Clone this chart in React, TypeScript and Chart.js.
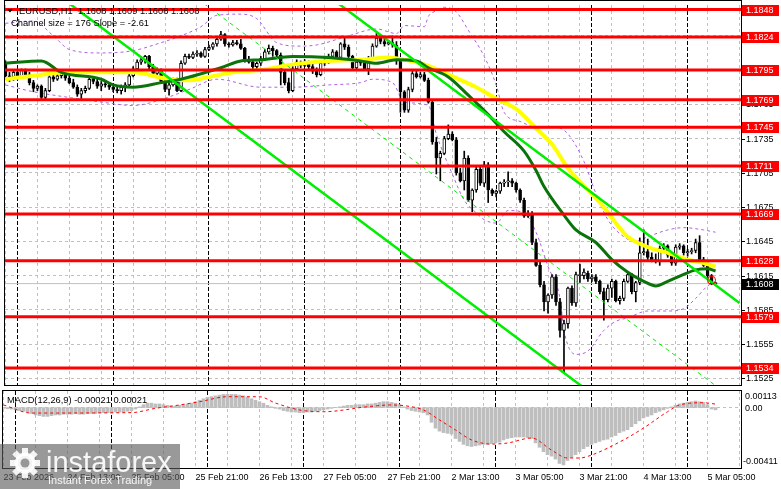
import React, { useEffect, useRef } from "react";
import { Chart, registerables } from "chart.js";

Chart.register(...registerables);

const FONT = "9px 'Liberation Sans', Arial, sans-serif";
const TITLE_FONT = "9.3px 'Liberation Sans', Arial, sans-serif";

// ---------- price data (hourly candles, index 0 = 23 Feb 21:00) ----------
const opens = [
  1.1800,1.1790,1.1789,1.1793,1.1789,1.1795,1.1791,1.1784,1.1779,1.1781,
  1.1771,1.1777,1.1789,1.1787,1.1790,1.1792,1.1788,1.1784,1.1780,1.1774,
  1.1777,1.1779,1.1787,1.1785,1.1781,1.1783,1.1782,1.1780,1.1778,1.1777,
  1.1780,1.1782,1.1790,1.1796,1.1802,1.1804,1.1807,1.1798,1.1792,1.1795,
  1.1785,1.1778,1.1782,1.1786,1.1777,1.1801,1.1807,1.1806,1.1809,1.1810,
  1.1807,1.1813,1.1815,1.1818,1.1822,1.1826,1.1818,1.1817,1.1819,1.1818,
  1.1814,1.1804,1.1802,1.1798,1.1801,1.1805,1.1811,1.1814,1.1812,1.1808,
  1.1793,1.1784,1.1777,1.1796,1.1802,1.1799,1.1802,1.1798,1.1794,1.1791,
  1.1801,1.1803,1.1807,1.1811,1.1806,1.1818,1.1815,1.1807,1.1797,1.1802,
  1.1801,1.1796,1.1805,1.1816,1.1823,1.1820,1.1818,1.1819,1.1817,1.1803,
  1.1776,1.1760,1.1778,1.1792,1.1789,1.1791,1.1786,1.1767,1.1732,1.1718,
  1.1722,1.1735,1.1739,1.1734,1.1705,1.1698,1.1718,1.1681,1.1690,1.1708,
  1.1696,1.1712,1.1690,1.1687,1.1689,1.1696,1.1697,1.1698,1.1696,1.1690,
  1.1681,1.1667,1.1669,1.1644,1.1624,1.1607,1.1592,1.1598,1.1614,1.1592,
  1.1567,1.1573,1.1604,1.1591,1.1615,1.1615,1.1617,1.1612,1.1614,1.1610,
  1.1601,1.1594,1.1604,1.1610,1.1593,1.1595,1.1610,1.1616,1.1601,1.1609,
  1.1635,1.1636,1.1631,1.1629,1.1627,1.1639,1.1641,1.1633,1.1626,1.1640,
  1.1641,1.1635,1.1636,1.1637,1.1644,1.1629,1.1624,1.1615,1.1608,
];
const highs = [
  1.1803,1.1793,1.1795,1.1795,1.1796,1.1796,1.1793,1.1786,1.1782,1.1782,
  1.1779,1.1790,1.1791,1.1792,1.1794,1.1793,1.1790,1.1787,1.1782,1.1779,
  1.1781,1.1789,1.1789,1.1787,1.1785,1.1785,1.1783,1.1782,1.1781,1.1782,
  1.1784,1.1792,1.1798,1.1804,1.1807,1.1808,1.1808,1.1800,1.1797,1.1796,
  1.1787,1.1784,1.1788,1.1788,1.1803,1.1809,1.1809,1.1811,1.1812,1.1811,
  1.1815,1.1817,1.1819,1.1824,1.1829,1.1827,1.1819,1.1821,1.1821,1.1822,
  1.1815,1.1807,1.1804,1.1802,1.1807,1.1813,1.1817,1.1816,1.1813,1.1810,
  1.1795,1.1788,1.1798,1.1804,1.1803,1.1804,1.1803,1.1800,1.1797,1.1802,
  1.1805,1.1809,1.1813,1.1812,1.1819,1.1824,1.1817,1.1808,1.1804,1.1805,
  1.1803,1.1807,1.1818,1.1827,1.1825,1.1822,1.1821,1.1825,1.1820,1.1805,
  1.1777,1.1780,1.1794,1.1794,1.1793,1.1793,1.1788,1.1769,1.1736,1.1724,
  1.1737,1.1747,1.1741,1.1736,1.1709,1.1724,1.1720,1.1691,1.1710,1.1711,
  1.1715,1.1714,1.1691,1.1690,1.1697,1.1699,1.1706,1.1700,1.1697,1.1691,
  1.1683,1.1672,1.1671,1.1647,1.1627,1.1610,1.1599,1.1616,1.1616,1.1595,
  1.1576,1.1605,1.1606,1.1618,1.1625,1.1621,1.1619,1.1616,1.1616,1.1611,
  1.1604,1.1607,1.1612,1.1611,1.1597,1.1612,1.1617,1.1617,1.1610,1.1648,
  1.1655,1.1647,1.1635,1.1634,1.1641,1.1643,1.1642,1.1635,1.1642,1.1643,
  1.1642,1.1638,1.1639,1.1647,1.1650,1.1631,1.1628,1.1616,1.1609,
];
const lows = [
  1.1789,1.1785,1.1786,1.1787,1.1788,1.1790,1.1782,1.1776,1.1777,1.1769,
  1.1770,1.1776,1.1785,1.1786,1.1788,1.1786,1.1783,1.1779,1.1772,1.1769,
  1.1775,1.1778,1.1783,1.1779,1.1777,1.1780,1.1778,1.1776,1.1775,1.1774,
  1.1776,1.1781,1.1789,1.1795,1.1800,1.1801,1.1796,1.1790,1.1790,1.1783,
  1.1776,1.1773,1.1781,1.1776,1.1776,1.1800,1.1805,1.1805,1.1807,1.1806,
  1.1806,1.1812,1.1813,1.1816,1.1821,1.1816,1.1815,1.1816,1.1817,1.1813,
  1.1802,1.1801,1.1796,1.1795,1.1799,1.1804,1.1809,1.1807,1.1806,1.1782,
  1.1782,1.1775,1.1776,1.1795,1.1797,1.1798,1.1796,1.1792,1.1789,1.1790,
  1.1799,1.1801,1.1806,1.1804,1.1805,1.1813,1.1806,1.1795,1.1796,1.1799,
  1.1795,1.1791,1.1804,1.1815,1.1818,1.1816,1.1817,1.1815,1.1800,1.1758,
  1.1758,1.1758,1.1776,1.1788,1.1788,1.1785,1.1766,1.1730,1.1704,1.1698,
  1.1721,1.1734,1.1733,1.1703,1.1697,1.1690,1.1680,1.1671,1.1688,1.1694,
  1.1693,1.1679,1.1685,1.1684,1.1687,1.1693,1.1693,1.1693,1.1688,1.1679,
  1.1666,1.1666,1.1642,1.1623,1.1605,1.1584,1.1582,1.1595,1.1589,1.1561,
  1.1530,1.1569,1.1589,1.1588,1.1609,1.1612,1.1610,1.1610,1.1608,1.1599,
  1.1576,1.1592,1.1596,1.1592,1.1590,1.1593,1.1609,1.1599,1.1592,1.1607,
  1.1633,1.1629,1.1627,1.1626,1.1624,1.1636,1.1631,1.1624,1.1624,1.1638,
  1.1633,1.1632,1.1634,1.1635,1.1627,1.1623,1.1613,1.1607,1.1608,
];
const closes = [
  1.1790,1.1789,1.1793,1.1789,1.1795,1.1791,1.1784,1.1779,1.1781,1.1771,
  1.1777,1.1789,1.1787,1.1790,1.1792,1.1788,1.1784,1.1780,1.1774,1.1777,
  1.1779,1.1787,1.1785,1.1781,1.1783,1.1782,1.1780,1.1778,1.1777,1.1780,
  1.1782,1.1790,1.1796,1.1802,1.1804,1.1807,1.1798,1.1792,1.1795,1.1785,
  1.1778,1.1782,1.1786,1.1777,1.1801,1.1807,1.1806,1.1809,1.1810,1.1807,
  1.1813,1.1815,1.1818,1.1822,1.1826,1.1818,1.1817,1.1819,1.1818,1.1814,
  1.1804,1.1802,1.1798,1.1801,1.1805,1.1811,1.1814,1.1812,1.1808,1.1793,
  1.1784,1.1777,1.1796,1.1802,1.1799,1.1802,1.1798,1.1794,1.1791,1.1801,
  1.1803,1.1807,1.1811,1.1806,1.1818,1.1815,1.1807,1.1797,1.1802,1.1801,
  1.1796,1.1805,1.1816,1.1823,1.1820,1.1818,1.1819,1.1817,1.1803,1.1776,
  1.1760,1.1778,1.1792,1.1789,1.1791,1.1786,1.1767,1.1732,1.1718,1.1722,
  1.1735,1.1739,1.1734,1.1705,1.1698,1.1718,1.1681,1.1690,1.1708,1.1696,
  1.1712,1.1690,1.1687,1.1689,1.1696,1.1697,1.1698,1.1696,1.1690,1.1681,
  1.1667,1.1669,1.1644,1.1624,1.1607,1.1592,1.1598,1.1614,1.1592,1.1567,
  1.1573,1.1604,1.1591,1.1616,1.1616,1.1618,1.1612,1.1614,1.1610,1.1601,
  1.1594,1.1604,1.1610,1.1593,1.1595,1.1610,1.1616,1.1601,1.1609,1.1635,
  1.1636,1.1631,1.1629,1.1627,1.1639,1.1641,1.1633,1.1626,1.1640,1.1641,
  1.1635,1.1636,1.1637,1.1644,1.1629,1.1624,1.1615,1.1608,1.1608,
];

// moving averages / bands: [candle index, price]
const maGreen = [
  [0,1.1801],[9,1.1803],[14,1.1793],[24,1.1787],[27,1.1782],[32,1.1780],[39,1.1784],[44,1.1787],
  [54,1.1797],[59,1.1803],[64,1.1804],[72,1.1807],[81,1.1806],[89,1.1803],[93,1.1801],[98,1.1804],
  [103,1.1803],[106,1.1797],[111,1.1789],[116,1.1773],[121,1.1756],[125,1.1741],[130,1.1724],
  [133,1.1707],[135,1.1693],[140,1.1668],[143,1.1655],[148,1.1644],[152,1.1629],[156,1.1618],
  [160,1.1610],[163,1.1606],[166,1.1610],[170,1.1616],[173,1.1620],[176,1.1621],[178,1.1619],
];
const maYellow = [
  [0,1.1787],[7,1.1790],[16,1.1793],[24,1.1793],[32,1.1793],[41,1.1787],[46,1.1786],[51,1.1789],
  [57,1.1793],[64,1.1795],[72,1.1800],[81,1.1803],[89,1.1804],[96,1.1806],[100,1.1804],[105,1.1800],
  [111,1.1791],[118,1.1780],[123,1.1770],[128,1.1761],[133,1.1744],[137,1.1730],[141,1.1709],
  [146,1.1690],[150,1.1675],[153,1.1661],[156,1.1649],[161,1.1640],[166,1.1635],[171,1.1629],
  [175,1.1626],[178,1.1623],
];
const bandUpper = [
  [0,1.1836],[7,1.1838],[12,1.1825],[16,1.1813],[24,1.1810],[32,1.1812],[39,1.1819],[44,1.1825],
  [49,1.1833],[53,1.1843],[59,1.1844],[63,1.1840],[68,1.1819],[74,1.1816],[78,1.1817],[86,1.1825],
  [93,1.1831],[98,1.1827],[100,1.1834],[105,1.1833],[106,1.1842],[108,1.1847],[110,1.1850],
  [113,1.1846],[116,1.1830],[120,1.1807],[123,1.1782],[125,1.1758],[129,1.1750],[133,1.1745],
  [138,1.1745],[141,1.1739],[145,1.1715],[148,1.1687],[151,1.1664],[155,1.1649],[158,1.1645],
  [161,1.1649],[166,1.1655],[170,1.1657],[175,1.1655],[178,1.1653],
];
const bandLower = [
  [0,1.1782],[7,1.1776],[16,1.1771],[24,1.1767],[32,1.1764],[37,1.1767],[46,1.1778],[53,1.1787],
  [64,1.1780],[72,1.1780],[81,1.1782],[89,1.1784],[92,1.1787],[97,1.1784],[100,1.1767],[106,1.1764],
  [108,1.1739],[112,1.1704],[115,1.1681],[118,1.1670],[120,1.1664],[123,1.1661],[126,1.1672],
  [130,1.1670],[133,1.1653],[136,1.1623],[139,1.1595],[140,1.1567],[143,1.1546],[146,1.1549],
  [150,1.1567],[153,1.1575],[156,1.1578],[161,1.1584],[166,1.1584],[170,1.1586],[173,1.1595],
  [176,1.1606],[178,1.1610],
];

// regression channel (slope -2.61 pips/bar, size 176 pips)
const channelIdx = [0, 184];
const channelUpper = [1.2071, 1.1591];
const channelMid = [1.1983, 1.1503];
const channelLower = [1.1895, 1.1415];

// horizontal levels
const levels = [1.1848, 1.1824, 1.1795, 1.1769, 1.1745, 1.1711, 1.1669, 1.1628, 1.1579, 1.1534];
const bidPrice = 1.1608;
const markerIdx = [177];
const markerPrice = [1.1611];

// axes
const priceTicks = [1.1525, 1.1555, 1.1585, 1.1615, 1.1645, 1.1675, 1.1705, 1.1735, 1.1765, 1.1795, 1.1825];
const PRICE_MIN = 1.15192;
const PRICE_MAX = 1.1852;
const X_MIN = -0.125;
const X_MAX = 184.375;
const GRID_STEP = 8;
const dayStarts = [3, 27, 51, 75, 99, 123, 147, 171];
const xLabelIdx = [0, 16, 32, 48, 64, 80, 96, 112, 128, 144, 160, 176];
const xLabelText = [
  "23 Feb 2026", "24 Feb 13:00", "25 Feb 05:00", "25 Feb 21:00", "26 Feb 13:00", "27 Feb 05:00",
  "27 Feb 21:00", "2 Mar 13:00", "3 Mar 05:00", "3 Mar 21:00", "4 Mar 13:00", "5 Mar 05:00",
];

// MACD(12,26,9)
const macdHist = [
  -0.00005,-0.00008,-0.0001,-0.00015,-0.0002,-0.00025,-0.0003,
  -0.0004,-0.0005,-0.00055,-0.0006,-0.0006,-0.00055,-0.0005,-0.0005,
  -0.00045,-0.00045,-0.00045,-0.0004,-0.00045,-0.00045,-0.0004,-0.0004,-0.0004,-0.00035,
  -0.00035,-0.00035,-0.00035,-0.0003,-0.0003,-0.0003,-0.00025,-0.0002,
  -0.0001,0.00005,0.0002,0.0003,0.0003,0.00025,0.00025,0.0002,0.00015,0.0001,0.0001,0.00015,0.0002,0.00025,
  0.0003,0.0004,0.0005,0.0006,0.0007,0.00075,0.0008,0.00085,
  0.0009,0.0009,0.0009,0.0009,0.00085,0.0008,
  0.0007,0.0006,0.0005,0.0004,0.0003,0.00015,
  0.00005,-0.00005,-0.0001,-0.0002,
  -0.00025,-0.0003,-0.0003,-0.00035,-0.00035,-0.0003,-0.0003,-0.00025,-0.0002,
  -0.00015,-0.0001,-0.00005,0.00002,0.00005,0.0001,
  0.00015,0.00015,0.0002,0.0002,0.0002,0.00025,0.00025,0.0003,0.00035,0.0004,0.0004,
  0.00035,0.0003,0.0002,0.00005,-0.0001,
  -0.0002,-0.00025,-0.0003,-0.00035,-0.0005,
  -0.001,
  -0.0014,-0.0016,-0.0017,-0.00175,-0.0018,
  -0.0021,-0.0023,-0.0025,-0.0026,
  -0.00265,-0.0026,-0.00255,-0.0025,-0.0025,-0.00245,-0.0024,-0.00235,
  -0.0022,-0.0021,-0.00205,-0.002,-0.002,-0.002,-0.00205,-0.0021,
  -0.0024,-0.0027,-0.003,-0.0032,-0.0033,-0.0035,-0.0038,-0.0039,
  -0.0036,-0.0034,-0.0032,-0.003,-0.0028,-0.00265,
  -0.0025,-0.0024,-0.0023,-0.0022,-0.00215,-0.002,-0.0019,-0.0017,-0.0016,-0.0015,-0.0013,-0.0011,-0.0009,-0.0007,
  -0.0006,-0.0005,-0.00035,-0.00025,-0.00015,-0.00005,
  0.00005,0.00015,0.00025,0.0003,0.00035,0.0004,0.00045,0.0004,0.00035,0.0002,-0.0001,
  -0.00015,
];
const macdSignal = [
  [0,0.00018],[7,-0.00037],[32,-0.00034],[38,-0.00005],[44,0.00018],[49,0.0004],[56,0.00074],
  [64,0.00074],[68,0.00031],[74,-0.00016],[80,-0.00028],[91,0.00006],[97,0.00018],[102,0.00006],
  [105,-0.00016],[109,-0.00084],[113,-0.00152],[117,-0.0022],[122,-0.00248],[126,-0.00241],
  [132,-0.00207],[137,-0.00289],[141,-0.00343],[144,-0.00343],[147,-0.00323],[155,-0.0022],
  [160,-0.00139],[166,-0.00028],[169,0.00018],[175,0.00033],[178,0.00024],
];
const MACD_MAX = 0.00113;
const MACD_MIN = -0.00411;
const macdTitle = "MACD(12,26,9) -0.00021 0.00021";
const symbolTitle = "EURUSD,H1";
const channelTitle = "Channel size = 176 Slope = -2.61";

const GRID_GRAY = "#c0c0c0";

const pts = (arr: number[][]) => arr.map(([x, y]) => ({ x, y }));

function drawVerticalGrid(ctx: any, xs: any, top: number, bottom: number) {
  ctx.lineWidth = 1;
  ctx.strokeStyle = GRID_GRAY;
  ctx.setLineDash([3, 3]);
  for (let i = 0; i <= X_MAX; i += GRID_STEP) {
    const px = Math.round(xs.getPixelForValue(i) - 0.5) + 0.5;
    ctx.beginPath();
    ctx.moveTo(px, top);
    ctx.lineTo(px, bottom);
    ctx.stroke();
  }
  ctx.strokeStyle = "#000";
  ctx.setLineDash([4, 2]);
  for (const d of dayStarts) {
    const px = Math.round(xs.getPixelForValue(d) - 0.5) + 0.5;
    ctx.beginPath();
    ctx.moveTo(px, top);
    ctx.lineTo(px, bottom);
    ctx.stroke();
  }
  ctx.setLineDash([]);
}

const mainDeco = {
  id: "mainDeco",
  beforeDatasetsDraw(chart: any) {
    const { ctx, chartArea: a } = chart;
    const xs = chart.scales.x;
    const ys = chart.scales.y;
    ctx.save();
    ctx.beginPath();
    ctx.rect(a.left, a.top, a.right - a.left, a.bottom - a.top);
    ctx.clip();
    ctx.lineWidth = 1;
    ctx.strokeStyle = GRID_GRAY;
    ctx.setLineDash([3, 3]);
    for (const t of priceTicks) {
      const py = Math.round(ys.getPixelForValue(t) - 0.5) + 0.5;
      ctx.beginPath();
      ctx.moveTo(a.left, py);
      ctx.lineTo(a.right, py);
      ctx.stroke();
    }
    drawVerticalGrid(ctx, xs, a.top, a.bottom);
    ctx.restore();
  },
  afterDraw(chart: any) {
    const { ctx, chartArea: a } = chart;
    const ys = chart.scales.y;
    ctx.save();
    ctx.setLineDash([]);
    ctx.strokeStyle = "#000";
    ctx.lineWidth = 1;
    ctx.strokeRect(a.left - 0.5, 0.5, a.right - a.left + 1, a.bottom);
    ctx.font = FONT;
    ctx.textBaseline = "middle";
    ctx.textAlign = "left";
    ctx.fillStyle = "#000";
    for (const t of priceTicks) {
      const py = Math.round(ys.getPixelForValue(t));
      ctx.fillText(t.toFixed(4), a.right + 5, py + 0.5);
      ctx.beginPath();
      ctx.moveTo(a.right + 1, py + 0.5);
      ctx.lineTo(a.right + 4, py + 0.5);
      ctx.stroke();
    }
    for (const l of levels) {
      const py = Math.round(ys.getPixelForValue(l));
      ctx.fillStyle = "#ff0000";
      ctx.fillRect(a.right + 1, py - 5, 37, 11);
      ctx.fillStyle = "#ffffff";
      ctx.fillText(l.toFixed(4), a.right + 5, py + 0.5);
    }
    {
      const py = Math.round(ys.getPixelForValue(bidPrice));
      ctx.fillStyle = "#000";
      ctx.fillRect(a.right + 1, py - 5, 37, 11);
      ctx.fillStyle = "#fff";
      ctx.fillText(bidPrice.toFixed(4), a.right + 5, py + 0.5);
    }
    const last = opens.length - 1;
    ctx.fillStyle = "#000";
    ctx.beginPath();
    ctx.moveTo(7, 9);
    ctx.lineTo(13, 9);
    ctx.lineTo(10, 12.5);
    ctx.closePath();
    ctx.fill();
    ctx.font = TITLE_FONT;
    ctx.fillText(
      `${symbolTitle}  ${opens[last].toFixed(4)} ${highs[last].toFixed(4)} ${lows[last].toFixed(4)} ${closes[last].toFixed(4)}`,
      19,
      11.5
    );
    ctx.fillText(channelTitle, 11, 23.5);
    ctx.restore();
  },
};

const macdDeco = {
  id: "macdDeco",
  beforeDatasetsDraw(chart: any) {
    const { ctx, chartArea: a } = chart;
    const xs = chart.scales.x;
    const ys = chart.scales.y;
    ctx.save();
    ctx.beginPath();
    ctx.rect(a.left, a.top, a.right - a.left, a.bottom - a.top);
    ctx.clip();
    drawVerticalGrid(ctx, xs, a.top, a.bottom);
    ctx.strokeStyle = GRID_GRAY;
    ctx.setLineDash([3, 3]);
    const zy = Math.round(ys.getPixelForValue(0) - 0.5) + 0.5;
    ctx.beginPath();
    ctx.moveTo(a.left, zy);
    ctx.lineTo(a.right, zy);
    ctx.stroke();
    ctx.restore();
  },
  afterDraw(chart: any) {
    const { ctx, chartArea: a } = chart;
    const xs = chart.scales.x;
    const ys = chart.scales.y;
    ctx.save();
    ctx.setLineDash([]);
    ctx.strokeStyle = "#000";
    ctx.lineWidth = 1;
    ctx.strokeRect(a.left - 0.5, 0.5, a.right - a.left + 1, a.bottom);
    ctx.textBaseline = "middle";
    ctx.textAlign = "left";
    ctx.fillStyle = "#000";
    ctx.font = TITLE_FONT;
    ctx.fillText(macdTitle, 7, 10.5);
    ctx.font = FONT;
    ctx.fillText(MACD_MAX.toFixed(5), a.right + 4, a.top + 6);
    ctx.fillText("0.00", a.right + 4, Math.round(ys.getPixelForValue(0)) + 0.5);
    ctx.fillText(MACD_MIN.toFixed(5), a.right + 2, a.bottom - 6);
    xLabelIdx.forEach((i, k) => {
      const px = xs.getPixelForValue(i);
      ctx.fillText(xLabelText[k], px, a.bottom + 9.5);
    });
    // watermark
    const top = a.bottom - 24;
    ctx.fillStyle = "rgba(90,90,90,0.62)";
    ctx.fillRect(0, top, 180, chart.height - top);
    const cx = 25;
    const cy = top + 19;
    ctx.fillStyle = "rgba(255,255,255,0.9)";
    for (let k = 0; k < 8; k++) {
      ctx.save();
      ctx.translate(cx, cy);
      ctx.rotate((k * Math.PI) / 4);
      ctx.fillRect(-3, -15, 6, 8);
      ctx.restore();
    }
    ctx.beginPath();
    ctx.arc(cx, cy, 10.5, 0, Math.PI * 2);
    ctx.fill();
    ctx.fillStyle = "#979797";
    ctx.beginPath();
    ctx.arc(cx, cy, 4.5, 0, Math.PI * 2);
    ctx.fill();
    ctx.fillStyle = "rgba(255,255,255,0.92)";
    ctx.textBaseline = "alphabetic";
    ctx.font = "29px 'Liberation Sans', Arial, sans-serif";
    ctx.fillText("instaforex", 46, top + 28);
    ctx.font = "11px 'Liberation Sans', Arial, sans-serif";
    ctx.fillText("Instant Forex Trading", 48, top + 40);
    ctx.restore();
  },
};

export default function App() {
  const mainRef = useRef<HTMLCanvasElement>(null);
  const macdRef = useRef<HTMLCanvasElement>(null);

  useEffect(() => {
    document.body.style.margin = "0";
    const wickData = opens.map((_, i) => ({ x: i, y: [lows[i], highs[i]] }));
    const bodyData = opens.map((o, i) => ({ x: i, y: [Math.min(o, closes[i]), Math.max(o, closes[i])] }));
    const bodyColors = opens.map((o, i) => (closes[i] >= o ? "#ffffff" : "#000000"));
    const lineBase = { type: "line", pointRadius: 0, fill: false, cubicInterpolationMode: "monotone" };
    const twoPoint = (vals: number[]) => channelIdx.map((x, k) => ({ x, y: vals[k] }));

    const main = new Chart(mainRef.current as HTMLCanvasElement, {
      type: "bar",
      data: {
        datasets: [
          { ...lineBase, data: [{ x: X_MIN, y: bidPrice }, { x: X_MAX, y: bidPrice }], borderColor: GRID_GRAY, borderWidth: 1, order: 40 },
          { ...lineBase, data: pts(bandUpper), borderColor: "#b260e0", borderWidth: 1, borderDash: [3, 3], order: 35 },
          { ...lineBase, data: pts(bandLower), borderColor: "#b260e0", borderWidth: 1, borderDash: [3, 3], order: 34 },
          { type: "bar", data: wickData, backgroundColor: "#000", barThickness: 1, grouped: false, order: 30 },
          {
            type: "bar", data: bodyData, backgroundColor: bodyColors, borderColor: "#000", borderWidth: 1,
            borderSkipped: false, barThickness: 3, minBarLength: 1, grouped: false, order: 29,
          },
          { ...lineBase, data: pts(maYellow), borderColor: "#ffff00", borderWidth: 4, order: 20 },
          { ...lineBase, data: pts(maGreen), borderColor: "#0a730a", borderWidth: 3, order: 19 },
          { ...lineBase, data: twoPoint(channelMid), borderColor: "#00ee00", borderWidth: 1, borderDash: [4, 4], order: 12 },
          { ...lineBase, data: twoPoint(channelUpper), borderColor: "#00ee00", borderWidth: 2.5, order: 11 },
          { ...lineBase, data: twoPoint(channelLower), borderColor: "#00ee00", borderWidth: 2.5, order: 10 },
          ...levels.map((l) => ({
            ...lineBase, data: [{ x: X_MIN, y: l }, { x: X_MAX, y: l }], borderColor: "#ff0000", borderWidth: 3, order: 5,
          })),
          {
            type: "scatter", data: markerIdx.map((x, k) => ({ x, y: markerPrice[k] })), pointRadius: 4,
            pointBorderColor: "#ff0000", pointBackgroundColor: "rgba(0,0,0,0)", pointBorderWidth: 1, order: 1,
          },
        ] as any,
      },
      options: {
        animation: false,
        responsive: false,
        maintainAspectRatio: false,
        devicePixelRatio: 1,
        events: [],
        layout: { padding: { left: 3, right: 40, top: 1, bottom: 2 } },
        scales: {
          x: { type: "linear", min: X_MIN, max: X_MAX, display: false, offset: false },
          y: { type: "linear", min: PRICE_MIN, max: PRICE_MAX, display: false },
        },
        plugins: { legend: { display: false }, tooltip: { enabled: false } },
      } as any,
      plugins: [mainDeco],
    });

    const macd = new Chart(macdRef.current as HTMLCanvasElement, {
      type: "bar",
      data: {
        datasets: [
          {
            type: "bar", data: macdHist.map((v, i) => ({ x: i, y: v })), backgroundColor: "#bebebe",
            barThickness: 3, grouped: false, order: 10,
          },
          { ...lineBase, data: pts(macdSignal), borderColor: "#ff0000", borderWidth: 1, borderDash: [3, 3], order: 5 },
        ] as any,
      },
      options: {
        animation: false,
        responsive: false,
        maintainAspectRatio: false,
        devicePixelRatio: 1,
        events: [],
        layout: { padding: { left: 3, right: 40, top: 1, bottom: 21 } },
        scales: {
          x: { type: "linear", min: X_MIN, max: X_MAX, display: false, offset: false },
          y: { type: "linear", min: MACD_MIN, max: MACD_MAX, display: false },
        },
        plugins: { legend: { display: false }, tooltip: { enabled: false } },
      } as any,
      plugins: [macdDeco],
    });

    return () => {
      main.destroy();
      macd.destroy();
    };
  }, []);

  return (
    <div style={{ position: "relative", width: 781, height: 489, background: "#fff", overflow: "hidden" }}>
      <canvas ref={mainRef} width={781} height={390} style={{ position: "absolute", left: 0, top: 0 }} />
      <canvas ref={macdRef} width={781} height={99} style={{ position: "absolute", left: 0, top: 390 }} />
    </div>
  );
}
